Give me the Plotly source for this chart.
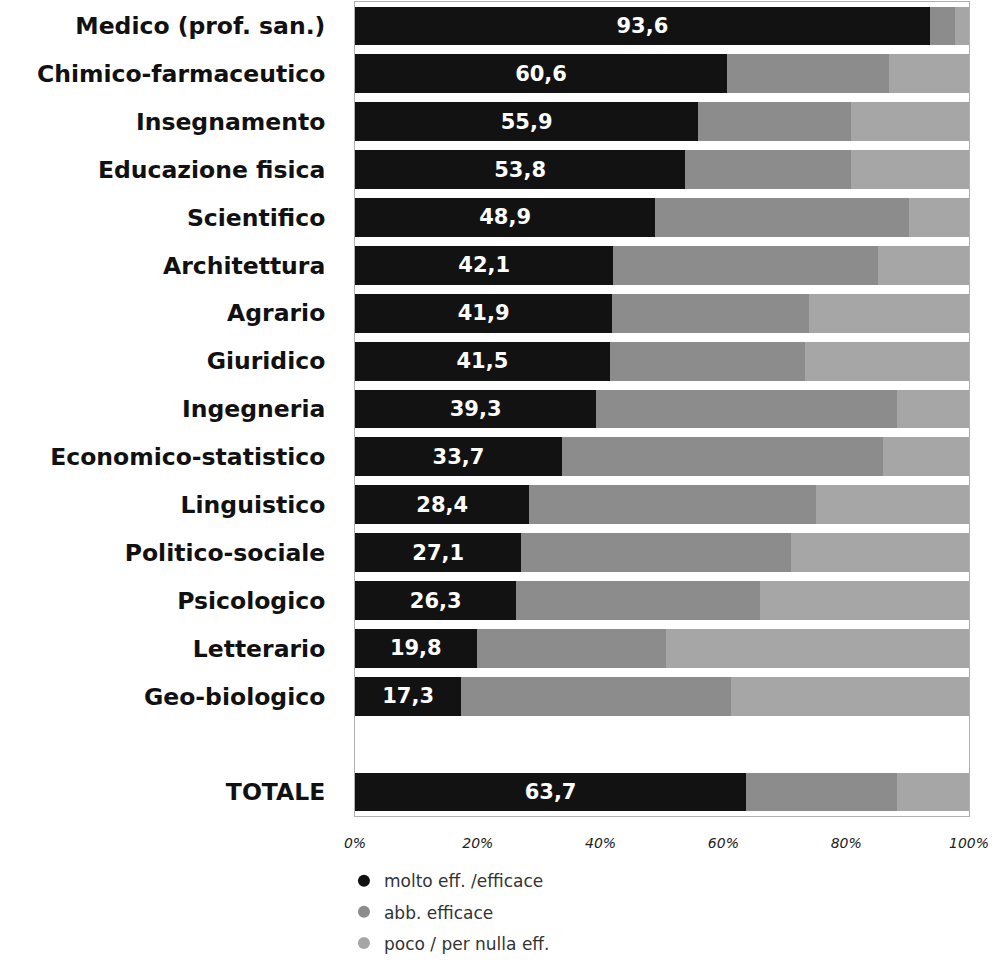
import plotly.graph_objects as go

categories = ["Medico (prof. san.)", "Chimico-farmaceutico", "Insegnamento", "Educazione fisica",
              "Scientifico", "Architettura", "Agrario", "Giuridico", "Ingegneria",
              "Economico-statistico", "Linguistico", "Politico-sociale", "Psicologico",
              "Letterario", "Geo-biologico", "TOTALE"]
spacer = " "
axis_order = categories[:-1] + [spacer] + categories[-1:]

molto = [93.6, 60.6, 55.9, 53.8, 48.9, 42.1, 41.9, 41.5, 39.3, 33.7, 28.4, 27.1, 26.3, 19.8, 17.3, 63.7]
abbastanza = [4.2, 26.4, 24.9, 27.0, 41.4, 43.1, 32.1, 31.8, 49.0, 52.3, 46.6, 43.9, 39.7, 30.8, 44.0, 24.6]
poco = [2.2, 13.0, 19.2, 19.2, 9.7, 14.8, 26.0, 26.7, 11.7, 14.0, 25.0, 29.0, 34.0, 49.4, 38.7, 11.7]

series_names = ["molto eff. /efficace", "abb. efficace", "poco / per nulla eff."]
colors = ["#121212", "#8c8c8c", "#a6a6a6"]
tick_vals = [0, 20, 40, 60, 80, 100]
tick_text = ["0%", "20%", "40%", "60%", "80%", "100%"]

labels = [f"{v:.1f}".replace(".", ",") for v in molto]

fig = go.Figure()
for i, (name, vals) in enumerate(zip(series_names, [molto, abbastanza, poco])):
    fig.add_trace(go.Bar(
        y=categories, x=vals, orientation="h", name=name,
        marker=dict(color=colors[i], line=dict(width=0)),
        text=labels if i == 0 else None,
        textposition="inside" if i == 0 else "none",
        insidetextanchor="middle",
        textfont=dict(family="DejaVu Sans", size=21, color="white", weight="bold"),
        showlegend=False, hoverinfo="x+y",
    ))
    fig.add_trace(go.Scatter(
        x=[None], y=[None], mode="markers", name=name, legendgroup=name,
        marker=dict(symbol="circle", size=11, color=colors[i]),
        showlegend=True,
    ))

fig.update_layout(
    barmode="stack",
    bargap=0.19,
    width=1004, height=969,
    margin=dict(l=355, r=35, t=2, b=153),
    paper_bgcolor="white", plot_bgcolor="white",
    font=dict(family="DejaVu Sans", color="#111"),
    uniformtext=dict(mode=False),
    legend=dict(
        orientation="v", x=-0.018, xanchor="left", y=-0.058, yanchor="top",
        font=dict(family="DejaVu Sans", size=17, color="#333"),
        tracegroupgap=6, itemsizing="constant",
        bgcolor="rgba(0,0,0,0)",
    ),
    xaxis=dict(
        range=[0, 100], tickvals=tick_vals, ticktext=tick_text,
        tickfont=dict(family="DejaVu Sans", size=14, color="#222", style="italic"),
        showgrid=False, zeroline=False, showline=True, linecolor="#b0b0b0",
        linewidth=1, mirror=True, ticks="", ticklabelstandoff=14,
    ),
    yaxis=dict(
        categoryorder="array", categoryarray=axis_order, autorange="reversed",
        tickfont=dict(family="DejaVu Sans", size=23.5, color="#111", weight="bold"),
        showgrid=False, zeroline=False, showline=True, linecolor="#b0b0b0",
        linewidth=1, mirror=True, ticks="", ticklabelstandoff=24,
    ),
)

fig.write_html("out.html")
